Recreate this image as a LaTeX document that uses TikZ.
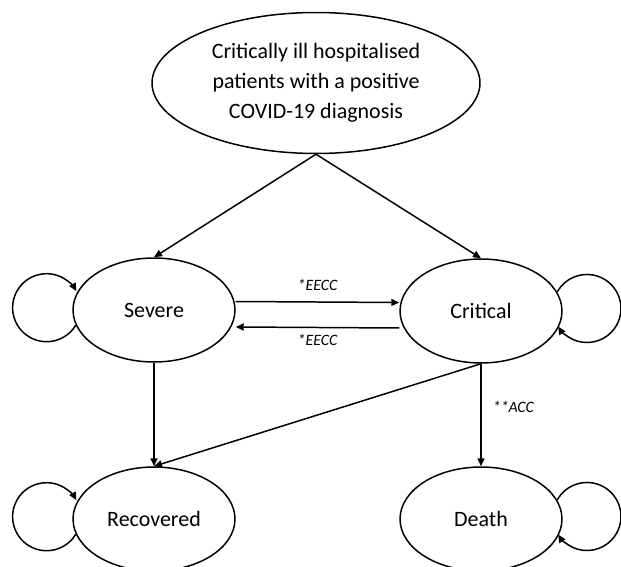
\documentclass[tikz,border=0pt]{standalone}
\usepackage{fontspec}
\setmainfont{Carlito}
\usepackage{tikz}
\usetikzlibrary{shapes.geometric,arrows.meta}
\tikzset{
  state/.style={draw,ellipse,line width=0.85pt,inner sep=0pt,minimum width=3.24cm,minimum height=2.08cm,font=\fontsize{12.5}{17}\selectfont},
  arr/.style={line width=0.85pt,-{Triangle[length=1.6mm,width=1.4mm]}},
  lbl/.style={font=\fontsize{9}{11}\selectfont\itshape}
}

\begin{document}
\begin{tikzpicture}[x=0.02cm,y=-0.02cm]
\useasboundingbox (0,0) rectangle (621,567);

\node[state,minimum width=6.56cm,minimum height=2.82cm,align=center] (start) at (316,83) {Critically ill hospitalised\\patients with a positive\\COVID-19 diagnosis};
\node[state] (severe) at (154,310) {Severe};
\node[state] (critical) at (481,311) {Critical};
\node[state] (recovered) at (154,519) {Recovered};
\node[state] (death) at (481,519) {Death};

\draw[arr] (start.south) -- (severe.north);
\draw[arr] (start.south) -- (critical.north);
\draw[arr] ([yshift=0.17cm]severe.east) -- node[lbl,above=3pt] {*EECC} ([yshift=0.17cm]critical.west);
\draw[arr] ([yshift=-0.34cm]critical.west) -- node[lbl,below] {*EECC} ([yshift=-0.34cm]severe.west -| severe.east);
\draw[arr] (severe.south) -- (recovered.north);
\draw[arr] (critical.south) -- (recovered.north);
\draw[arr] (critical.south) -- node[lbl,right=3pt,pos=0.42] {**ACC} (death.north);

\draw[arr] (severe.191) arc[start angle=-31,end angle=-331,radius=0.68cm];
\draw[arr] (critical.14) arc[start angle=151,end angle=-148,radius=0.68cm];
\draw[arr] (recovered.191) arc[start angle=-31,end angle=-331,radius=0.68cm];
\draw[arr] (death.14) arc[start angle=151,end angle=-148,radius=0.68cm];
\end{tikzpicture}
\end{document}
